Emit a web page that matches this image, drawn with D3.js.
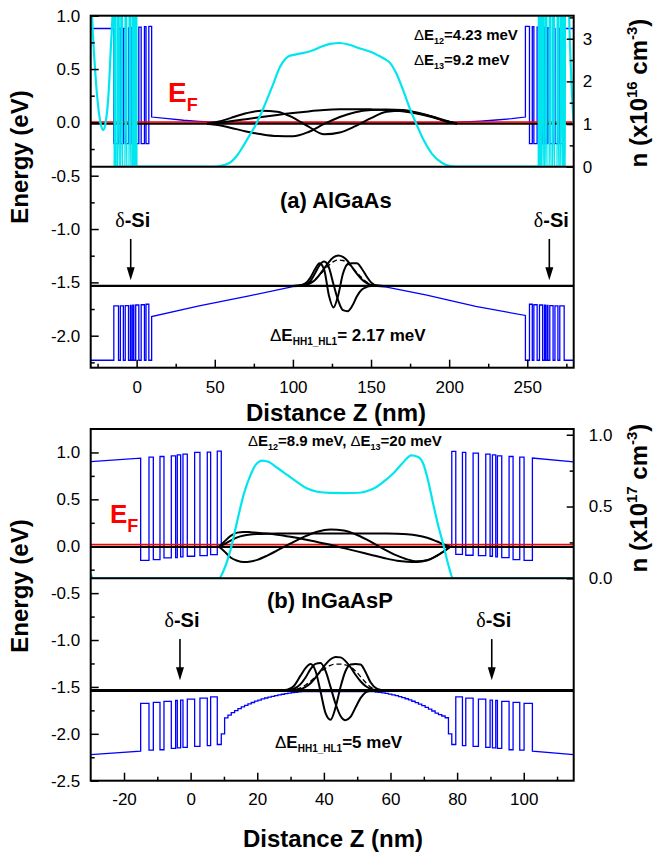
<!DOCTYPE html>
<html><head><meta charset="utf-8">
<script src="https://cdn.jsdelivr.net/npm/d3@7"></script>
<style>
body{margin:0;background:#fff}
svg{display:block}
text{font-family:"Liberation Sans",Arial,sans-serif}
</style>
</head><body>
<svg id="chart" width="656" height="852"></svg>
<script>
// ================= Panel (a): AlGaAs =================
// superlattice layer boundaries (nm); segments alternate well / barrier (left) and barrier / well (right)
const aSLLeftEdges  = [-14.6, -11.6, -10.4, -8.5, -7.3, -5.2, -4.0, -3.5, -2.5, -1.8, -0.6, 1.4, 2.9, 5.0, 6.0, 7.8, 9.6];
const aCBLeftLevels = [-0.2, 0.88, -0.2, 0.882, -0.2, 0.885, -0.2, 0.888, -0.2, 0.89, -0.2, 0.893, -0.2, 0.897, -0.2, 0.90];
const aVBLeftLevels = [-1.72, -2.23, -1.72, -2.23, -1.718, -2.23, -1.716, -2.23, -1.714, -2.23, -1.712, -2.23, -1.71, -2.23, -1.705, -2.23];
const aSLRightEdges  = [248.8, 251.4, 253.2, 254.2, 256.3, 257.8, 259.8, 261.0, 261.7, 262.7, 263.2, 264.4, 266.5, 267.7, 269.6, 270.8, 273.6];
const aCBRightLevels = [0.90, -0.2, 0.897, -0.2, 0.893, -0.2, 0.89, -0.2, 0.888, -0.2, 0.885, -0.2, 0.882, -0.2, 0.88, -0.2];
const aVBRightLevels = [-2.23, -1.705, -2.23, -1.71, -2.23, -1.712, -2.23, -1.714, -2.23, -1.716, -2.23, -1.718, -2.23, -1.72, -2.23, -1.72];
// outer flat regions (x, E)
const aCBOuter = {left: [[-29.4, 0.88], [-14.6, 0.88]], right: [[273.6, 0.88], [279.7, 0.88]]};
const aVBOuter = {left: [[-29.4, -2.23], [-14.6, -2.23]], right: [[273.6, -2.23], [279.7, -2.23]]};
// band profile across the well
const aCBMidZ = [9.6, 20, 30, 40, 50, 60, 100, 150, 200, 210, 220, 230, 240, 248.8];
const aCBMidE = [0.05, 0.035, 0.02, 0.01, 0.003, 0, -0.004, -0.004, 0, 0.005, 0.012, 0.022, 0.035, 0.05];
const aVBMidZ = [9.6, 40, 72, 100, 110, 150, 160, 185, 217, 248.8];
const aVBMidE = [-1.82, -1.72, -1.626, -1.54, -1.533, -1.533, -1.545, -1.617, -1.726, -1.81];
// electron density n (1e16 cm^-3)
const aDensZ = [-29.4, -28.5, -27, -25, -23, -21.4, -20, -18, -16.5, -15.2, -14.5, -14.1,
  -13.8, -13.5, -12.0, -11.7, -11.4, -9.9, -9.6, -9.3, -7.2, -6.9, -6.6, -4.6, -4.3, -4.0,
  -2.5, -2.2, -1.9, -1.6, -1.3, -1.0, -0.7, -0.4, -0.1,
  51, 55, 60, 64, 68, 72, 76.8, 82, 87, 91.7, 95, 98, 104.5, 112, 118, 124, 130, 136, 143, 150, 155, 159, 162,
  166, 171, 175, 178.8, 184, 189, 195.8, 200, 204.4,
  257.3, 257.6, 257.9, 258.2, 258.5, 258.8, 259.1, 259.7, 260.0, 260.3, 261.7, 262.0, 262.3,
  264.3, 264.6, 264.9, 266.5, 266.8, 267.1, 269.3, 269.6, 269.9, 271.4, 271.7, 272.0, 273.3, 273.6, 273.9,
  274.5, 276.5, 278, 279.7];
const aDensN = [4.5, 3.5, 2.5, 1.55, 1.0, 0.86, 1.0, 1.7, 2.8, 3.9, 6, 0,
  40, 0, 0, 40, 0, 0, 40, 0, 0, 40, 0, 0, 40, 0,
  0, 40, 0, 40, 0, 40, 0, 40, 0,
  0, 0.03, 0.1, 0.25, 0.47, 0.72, 1.02, 1.45, 1.9, 2.34, 2.52, 2.6, 2.65, 2.72, 2.81, 2.88, 2.9, 2.86, 2.77, 2.69, 2.6, 2.52, 2.44,
  2.2, 1.75, 1.35, 1.02, 0.6, 0.3, 0.08, 0.02, 0,
  0, 40, 0, 40, 0, 40, 0, 0, 40, 0, 0, 40, 0,
  0, 40, 0, 0, 40, 0, 0, 40, 0, 0, 40, 0, 0, 40, 0,
  10, 4.0, 2.2, 1.0];
// conduction-band wavefunctions (drawn at their subband level)
const aPsiZ = [45, 52, 60, 70, 80, 90, 100, 110, 120, 130, 140, 150, 160, 170, 180, 190, 198, 205];
const aPsi1 = [-0.012, -0.005, 0.01, 0.03, 0.05, 0.07, 0.088, 0.103, 0.115, 0.122, 0.124, 0.122, 0.117, 0.105, 0.08, 0.045, 0.01, -0.012];
const aPsi2 = [-0.012, -0.025, -0.05, -0.085, -0.112, -0.128, -0.13, -0.09, -0.015, 0.05, 0.095, 0.115, 0.12, 0.115, 0.09, 0.05, 0.01, -0.012];
const aPsi3 = [-0.012, 0.005, 0.04, 0.085, 0.11, 0.1, 0.045, -0.04, -0.112, -0.095, -0.035, 0.04, 0.1, 0.108, 0.085, 0.05, 0.015, -0.012];
// hole wavefunctions
const aHoleZ = [100, 104, 108, 111, 114, 117, 120, 123, 126, 129, 132, 135, 138, 141, 144, 147, 150, 154, 158];
const aHoleHH1 = [-1.533, -1.532, -1.525, -1.51, -1.48, -1.43, -1.37, -1.31, -1.265, -1.248, -1.262, -1.30, -1.36, -1.42, -1.47, -1.505, -1.525, -1.532, -1.533];
const aHoleLH1 = [-1.533, -1.53, -1.52, -1.505, -1.475, -1.435, -1.385, -1.34, -1.305, -1.29, -1.295, -1.32, -1.36, -1.41, -1.455, -1.495, -1.52, -1.531, -1.533];
const aHoleHH2 = [-1.533, -1.532, -1.52, -1.49, -1.42, -1.34, -1.305, -1.36, -1.52, -1.67, -1.76, -1.77, -1.72, -1.63, -1.57, -1.545, -1.535, -1.533, -1.533];
const aHoleHH3 = [-1.533, -1.53, -1.51, -1.46, -1.38, -1.32, -1.38, -1.62, -1.735, -1.62, -1.42, -1.33, -1.32, -1.32, -1.37, -1.44, -1.5, -1.53, -1.533];
const aLevels = {fermi: 0.004, e1: -0.012, h1: -1.533};

// ================= Panel (b): InGaAsP =================
const bSLLeftEdges  = [-15, -12.5, -11.2, -9.2, -8.0, -5.8, -4.5, -4.0, -3.0, -2.3, -1.0, 1.2, 2.8, 5.0, 6.0, 8.0, 9.2];
const bCBLeftLevels = [-0.150, 0.950, -0.143, 0.957, -0.125, 0.964, -0.121, 0.975, -0.114, 0.982, -0.107, 1.000, -0.100, 1.004, -0.089, 1.014];
const bVBLeftLevels = [-1.675, -2.175, -1.665, -2.170, -1.655, -2.155, -1.645, -2.150, -1.640, -2.145, -1.630, -2.135, -1.620, -2.125, -1.607, -2.114];
const bSLRightEdges  = [78.4, 79.6, 81.6, 82.6, 84.8, 86.4, 88.6, 89.9, 90.6, 91.6, 92.1, 93.4, 95.6, 96.8, 98.8, 100.1, 102.6];
const bCBRightLevels = [1.011, -0.086, 1.000, -0.096, 0.993, -0.100, 0.982, -0.107, 0.975, -0.114, 0.964, -0.121, 0.957, -0.143, 0.950, -0.150];
const bVBRightLevels = [-2.114, -1.607, -2.125, -1.620, -2.135, -1.630, -2.145, -1.640, -2.150, -1.645, -2.155, -1.655, -2.170, -1.665, -2.175, -1.675];
const bCBOuter = {left: [[-30, 0.903], [-15, 0.94]], right: [[102.6, 0.94], [115, 0.90]]};
const bVBOuter = {left: [[-30, -2.221], [-15, -2.186]], right: [[102.6, -2.186], [115, -2.221]]};
const bCBMid = [[9.2, -0.012], [78.4, -0.012]];
// graded valence band (step starts, nm) and its levels
const bGradeLeftZ = [9.2, 10.2, 11.2, 12.2, 13.2, 14.2, 15.2, 16.2, 17.2, 18.2, 19.2, 20.2, 21.2, 22.2, 23.2, 24.2, 25.2, 26.2, 27.2, 28.2, 29.2, 30.2, 31.2, 32.2, 33.2];
const bGradeLeftE = [-2.0, -1.83, -1.80, -1.775, -1.752, -1.732, -1.713, -1.696, -1.680, -1.666, -1.652, -1.640, -1.628, -1.618, -1.608, -1.600, -1.592, -1.585, -1.578, -1.572, -1.566, -1.561, -1.557, -1.553, -1.550];
const bGradeLeftEnd = 34.2;
const bGradeRightZ = [54.4, 55.4, 56.4, 57.4, 58.4, 59.4, 60.4, 61.4, 62.4, 63.4, 64.4, 65.4, 66.4, 67.4, 68.4, 69.4, 70.4, 71.4, 72.4, 73.4, 74.4, 75.4, 76.4, 77.4];
const bGradeRightE = [-1.551, -1.554, -1.558, -1.563, -1.569, -1.576, -1.584, -1.593, -1.603, -1.614, -1.626, -1.639, -1.653, -1.668, -1.684, -1.700, -1.718, -1.737, -1.757, -1.779, -1.795, -1.81, -1.829, -2.0];
const bGradeRightEnd = 78.4;
// electron density n (1e17 cm^-3)
const bDensZ = [-30, -29.3, 8.5, 10, 12, 14, 16, 18, 19.5, 21.5, 23.5, 26, 29, 32, 35, 38, 42, 46, 50.8, 53.5, 55.8, 58.3, 60.8, 63.5, 66.3, 68.3, 69.8, 71.3, 72.8, 74.3, 75.8, 77.3, 78.8, 115];
const bDensN = [0.03, 0, 0, 0.06, 0.2, 0.4, 0.59, 0.72, 0.79, 0.82, 0.81, 0.77, 0.72, 0.67, 0.625, 0.603, 0.595, 0.594, 0.596, 0.612, 0.636, 0.68, 0.73, 0.8, 0.856, 0.845, 0.8, 0.68, 0.52, 0.37, 0.24, 0.1, 0, 0];
const bPsiZ = [8.5, 10, 12, 14, 16, 18, 20, 23, 26, 30, 34, 38, 42, 46, 50, 54, 58, 62, 65, 68, 71, 74, 76, 78];
const bPsi1 = [-0.006, 0.02, 0.06, 0.095, 0.115, 0.125, 0.13, 0.134, 0.136, 0.136, 0.136, 0.136, 0.136, 0.136, 0.136, 0.136, 0.135, 0.133, 0.128, 0.115, 0.09, 0.05, 0.02, -0.006];
const bPsi2 = [-0.006, 0.045, 0.11, 0.145, 0.153, 0.15, 0.145, 0.135, 0.122, 0.1, 0.075, 0.045, 0.015, -0.02, -0.055, -0.09, -0.125, -0.155, -0.165, -0.168, -0.15, -0.1, -0.055, -0.006];
const bPsi3 = [-0.006, -0.05, -0.12, -0.155, -0.168, -0.162, -0.145, -0.1, -0.045, 0.03, 0.1, 0.155, 0.178, 0.168, 0.12, 0.05, -0.03, -0.1, -0.14, -0.16, -0.15, -0.1, -0.055, -0.006];
const bHoleZ = [27, 29, 31, 33, 34.5, 36, 37.5, 39, 40.5, 42, 43.5, 45, 46.5, 48, 49.5, 51, 52.5, 54, 56, 58];
const bHoleHH1 = [-1.537, -1.537, -1.535, -1.525, -1.50, -1.46, -1.40, -1.33, -1.26, -1.205, -1.18, -1.185, -1.225, -1.29, -1.37, -1.44, -1.49, -1.52, -1.535, -1.537];
const bHoleLH1 = [-1.537, -1.536, -1.53, -1.51, -1.48, -1.44, -1.39, -1.34, -1.30, -1.27, -1.258, -1.257, -1.265, -1.29, -1.33, -1.39, -1.45, -1.50, -1.53, -1.537];
const bHoleHH2 = [-1.537, -1.535, -1.52, -1.47, -1.40, -1.31, -1.255, -1.245, -1.33, -1.5, -1.68, -1.81, -1.855, -1.82, -1.72, -1.62, -1.56, -1.54, -1.537, -1.537];
const bHoleHH3 = [-1.537, -1.53, -1.49, -1.38, -1.30, -1.257, -1.33, -1.55, -1.78, -1.85, -1.72, -1.50, -1.33, -1.26, -1.255, -1.26, -1.34, -1.45, -1.52, -1.537];
const bLevels = {fermi: 0.018, e1: -0.006, h1: -1.537};

// ---------- helpers ----------
const zip = (xs, ys) => xs.map((x, i) => [x, ys[i]]);
function layerPoints(edges, levels) {
  const pts = [];
  levels.forEach((v, i) => { pts.push([edges[i], v], [edges[i + 1], v]); });
  return pts;
}
function stepPoints(xs, es, xEnd) {
  const pts = [];
  xs.forEach((x, i) => pts.push([x, es[i]], [i + 1 < xs.length ? xs[i + 1] : xEnd, es[i]]));
  return pts;
}

const svg = d3.select("#chart");
const FONT = '"Liberation Sans", Arial, sans-serif';
const BLUE = "#0000ff", CYAN = "#00e6ee", RED = "#ff0000";

function richText(g, x, y, parts, opts) {
  const t = g.append("text").attr("x", x).attr("y", y)
    .attr("font-size", opts.size).attr("font-weight", opts.weight || "bold")
    .attr("fill", opts.fill || "#000").attr("text-anchor", opts.anchor || "start");
  if (opts.transform) t.attr("transform", opts.transform);
  let shift = 0;
  parts.forEach(p => {
    const s = t.append("tspan").text(p.t);
    const target = p.sub ? opts.subDy : p.sup ? -opts.supDy : 0;
    if (target !== shift) { s.attr("dy", target - shift); shift = target; }
    if (p.sub || p.sup) s.attr("font-size", p.size || opts.subSize);
    if (p.w) s.attr("font-weight", p.w);
    if (p.f) s.attr("font-family", p.f);
  });
  return t;
}

function drawPanel(p) {
  const L = 90.7, R = 573.7;
  const x = d3.scaleLinear().domain(p.xDomain).range([L, R]);
  const y = d3.scaleLinear().domain(p.eDomain).range([p.bottom, p.top]);
  const yn = d3.scaleLinear().domain(p.nDomain).range([p.divider, p.top]);
  const g = svg.append("g");

  const defs = g.append("defs");
  defs.append("clipPath").attr("id", "frame-" + p.id).append("rect")
    .attr("x", L).attr("y", p.top).attr("width", R - L).attr("height", p.bottom - p.top);
  defs.append("clipPath").attr("id", "upper-" + p.id).append("rect")
    .attr("x", L).attr("y", p.top).attr("width", R - L).attr("height", p.divider - p.top);

  const plot = g.append("g").attr("clip-path", `url(#frame-${p.id})`);
  const line = d3.line().x(d => x(d[0])).y(d => y(d[1]));
  const smooth = d3.line().x(d => x(d[0])).y(d => y(d[1])).curve(d3.curveMonotoneX);

  // band edges
  [p.cb, p.vb].forEach(pts => plot.append("path").attr("d", line(pts))
    .attr("fill", "none").attr("stroke", BLUE).attr("stroke-width", 1.3).attr("stroke-linejoin", "miter"));

  // subband and Fermi levels
  [[p.levels.e1, "#000", 2.2], [p.levels.h1, "#000", p.holeWidth]].forEach(([e, c, w]) =>
    plot.append("line").attr("x1", L).attr("x2", R).attr("y1", y(e)).attr("y2", y(e))
      .attr("stroke", c).attr("stroke-width", w));
  plot.append("line").attr("x1", L).attr("x2", R)
    .attr("y1", y(p.levels.fermi)).attr("y2", y(p.levels.fermi))
    .attr("stroke", RED).attr("stroke-width", 1.5);

  // wavefunctions
  p.psi.forEach(ys => plot.append("path").attr("d", smooth(zip(p.psiZ, ys)))
    .attr("fill", "none").attr("stroke", "#000").attr("stroke-width", 2));
  p.holes.forEach((ys, i) => plot.append("path").attr("d", smooth(zip(p.holeZ, ys)))
    .attr("fill", "none").attr("stroke", "#000").attr("stroke-width", i === 1 ? 1.3 : 2)
    .attr("stroke-dasharray", i === 1 ? "5,3" : null));

  // electron density
  g.append("path").attr("clip-path", `url(#upper-${p.id})`)
    .attr("d", d3.line().x(d => x(d[0])).y(d => yn(d[1])).curve(d3.curveMonotoneX)(zip(p.densZ, p.densN)))
    .attr("fill", "none").attr("stroke", CYAN).attr("stroke-width", 2.2);

  // divider and frame
  g.append("line").attr("x1", L).attr("x2", R).attr("y1", p.divider).attr("y2", p.divider)
    .attr("stroke", "#000").attr("stroke-width", 2);
  g.append("rect").attr("x", L).attr("y", p.top).attr("width", R - L).attr("height", p.bottom - p.top)
    .attr("fill", "none").attr("stroke", "#000").attr("stroke-width", 2);

  // axes with inward ticks
  const styleAxis = a => a.call(s => s.select(".domain").remove())
    .attr("font-size", 17).attr("font-family", FONT)
    .call(s => s.selectAll(".tick line").attr("stroke-width", 1.5));
  g.append("g").attr("transform", `translate(${L},0)`)
    .call(d3.axisLeft(y).tickValues(p.eMajor).tickSize(-8).tickPadding(10.5).tickFormat(v => v.toFixed(1))).call(styleAxis);
  g.append("g").attr("transform", `translate(${L},0)`)
    .call(d3.axisLeft(y).tickValues(p.eMinor).tickSize(-4).tickFormat("")).call(styleAxis);
  g.append("g").attr("transform", `translate(0,${p.bottom})`)
    .call(d3.axisBottom(x).tickValues(p.xMajor).tickSize(-8).tickPadding(p.xPad).tickFormat(v => String(v))).call(styleAxis);
  g.append("g").attr("transform", `translate(0,${p.bottom})`)
    .call(d3.axisBottom(x).tickValues(p.xMinor).tickSize(-4).tickFormat("")).call(styleAxis);
  g.append("g").attr("transform", `translate(${R},0)`)
    .call(d3.axisRight(yn).tickValues(p.nMajor).tickSize(-7).tickPadding(p.nPad).tickFormat(p.nFormat)).call(styleAxis);
  g.append("g").attr("transform", `translate(${R},0)`)
    .call(d3.axisRight(yn).tickValues(p.nMinor).tickSize(-4).tickFormat("")).call(styleAxis);

  // axis titles
  richText(g, 0, 0, [{t: "Energy (eV)"}], {size: 24, anchor: "middle",
    transform: `translate(28,${p.eTitleY}) rotate(-90)`});
  richText(g, 0, 0, [{t: "n (x10"}, {t: p.nExp, sup: true}, {t: " cm"}, {t: "-3", sup: true}, {t: ")"}],
    {size: 24, anchor: "middle", subSize: 15, supDy: 10, transform: `translate(647,${p.nTitleY}) rotate(-90)`});
  richText(g, p.xTitleX, p.xTitleY, [{t: "Distance Z (nm)"}], {size: 24, anchor: "middle"});

  // panel annotations
  richText(g, p.nameX, p.nameY, [{t: p.name}], {size: 22});
  richText(g, p.efX, p.efY, [{t: "E"}, {t: "F", sub: true}], {size: p.efSize, fill: RED, subSize: 18, subDy: 9});
  p.deltas.forEach(d => richText(g, d.x, d.y, d.parts, {size: d.size, subSize: d.subSize, subDy: 4}));

  // delta-doping markers
  p.dopants.forEach(z => {
    const ax = x(z), y0 = y(p.arrowTop), y1 = y(p.arrowTip);
    g.append("line").attr("x1", ax).attr("x2", ax).attr("y1", y0).attr("y2", y1 - 11)
      .attr("stroke", "#000").attr("stroke-width", 1.6);
    g.append("path").attr("d", `M${ax - 4},${y1 - 13}L${ax + 4},${y1 - 13}L${ax},${y1}Z`).attr("fill", "#000");
    richText(g, ax + 2, y0 - 12, [{t: "δ", w: "normal", f: '"Liberation Serif", serif'}, {t: "-Si"}],
      {size: 20, anchor: "middle"});
  });
}

const dE = (sub, rest, size, subSize) => ({size, subSize,
  parts: [{t: "Δ", w: "normal"}, {t: "E"}, {t: sub, sub: true}].concat(rest)});

drawPanel({
  id: "a", top: 15.7, bottom: 367.7, divider: 166.7,
  xDomain: [-29.4, 279.7], eDomain: [-2.3, 1.0], nDomain: [0, 3.54],
  cb: [...aCBOuter.left, ...layerPoints(aSLLeftEdges, aCBLeftLevels), ...zip(aCBMidZ, aCBMidE),
       ...layerPoints(aSLRightEdges, aCBRightLevels), ...aCBOuter.right],
  vb: [...aVBOuter.left, ...layerPoints(aSLLeftEdges, aVBLeftLevels), ...zip(aVBMidZ, aVBMidE),
       ...layerPoints(aSLRightEdges, aVBRightLevels), ...aVBOuter.right],
  levels: aLevels, holeWidth: 2.4,
  psiZ: aPsiZ, psi: [aPsi1, aPsi2, aPsi3],
  holeZ: aHoleZ, holes: [aHoleHH1, aHoleLH1, aHoleHH2, aHoleHH3],
  densZ: aDensZ, densN: aDensN,
  eMajor: [-2.0, -1.5, -1.0, -0.5, 0, 0.5, 1.0], eMinor: [-2.25, -1.75, -1.25, -0.75, -0.25, 0.25, 0.75],
  xMajor: [0, 50, 100, 150, 200, 250], xMinor: [-25, 25, 75, 125, 175, 225, 275], xPad: 13.2,
  nMajor: [0, 1, 2, 3], nMinor: [0.5, 1.5, 2.5, 3.5], nPad: 9, nFormat: v => String(v), nExp: "16",
  eTitleY: 157, nTitleY: 93, xTitleX: 336, xTitleY: 421,
  name: "(a) AlGaAs", nameX: 280, nameY: 208,
  efX: 168, efY: 101.7, efSize: 28,
  deltas: [
    Object.assign(dE("12", [{t: "=4.23 meV"}], 15, 9), {x: 414, y: 40}),
    Object.assign(dE("13", [{t: "=9.2 meV"}], 15, 9), {x: 414, y: 65}),
    Object.assign(dE("HH1_HL1", [{t: "= 2.17 meV"}], 17, 10), {x: 270, y: 341})
  ],
  dopants: [-3.8, 264.1], arrowTop: -1.093, arrowTip: -1.48
});

drawPanel({
  id: "b", top: 429, bottom: 780.7, divider: 578.3,
  xDomain: [-30, 115], eDomain: [-2.5, 1.25], nDomain: [0, 1.04],
  cb: [...bCBOuter.left, ...layerPoints(bSLLeftEdges, bCBLeftLevels), ...bCBMid,
       ...layerPoints(bSLRightEdges, bCBRightLevels), ...bCBOuter.right],
  vb: [...bVBOuter.left, ...layerPoints(bSLLeftEdges, bVBLeftLevels),
       ...stepPoints(bGradeLeftZ, bGradeLeftE, bGradeLeftEnd),
       ...stepPoints(bGradeRightZ, bGradeRightE, bGradeRightEnd),
       ...layerPoints(bSLRightEdges, bVBRightLevels), ...bVBOuter.right],
  levels: bLevels, holeWidth: 3,
  psiZ: bPsiZ, psi: [bPsi1, bPsi2, bPsi3],
  holeZ: bHoleZ, holes: [bHoleHH1, bHoleLH1, bHoleHH2, bHoleHH3],
  densZ: bDensZ, densN: bDensN,
  eMajor: [-2.5, -2.0, -1.5, -1.0, -0.5, 0, 0.5, 1.0], eMinor: [-2.25, -1.75, -1.25, -0.75, -0.25, 0.25, 0.75],
  xMajor: [-20, 0, 20, 40, 60, 80, 100], xMinor: [-10, 10, 30, 50, 70, 90, 110], xPad: 12.2,
  nMajor: [0, 0.5, 1.0], nMinor: [0.25, 0.75], nPad: 15, nFormat: v => v.toFixed(1), nExp: "17",
  eTitleY: 586, nTitleY: 498, xTitleX: 333, xTitleY: 847,
  name: "(b) InGaAsP", nameX: 267, nameY: 608,
  efX: 110, efY: 523.3, efSize: 26,
  deltas: [
    Object.assign(dE("12", [{t: "=8.9 meV, "}, {t: "Δ", w: "normal"}, {t: "E"}, {t: "13", sub: true}, {t: "=20 meV"}], 15, 9), {x: 248, y: 446}),
    Object.assign(dE("HH1_HL1", [{t: "=5 meV"}], 17, 10), {x: 275, y: 748})
  ],
  dopants: [-3.2, 90.4], arrowTop: -0.99, arrowTip: -1.43
});
</script>
</body></html>
